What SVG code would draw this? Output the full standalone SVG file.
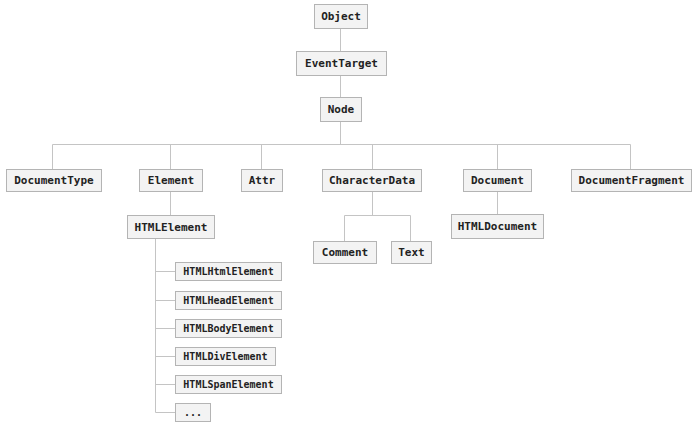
<svg xmlns="http://www.w3.org/2000/svg" width="700" height="429" viewBox="0 0 700 429">
<style>
.b{fill:#f3f3f3;stroke:#b4b4b4;stroke-width:1}
.t{font-family:"DejaVu Sans Mono","Liberation Mono",monospace;font-weight:bold;font-size:11px;fill:#222;text-anchor:middle;dominant-baseline:central}
.s{font-size:10px}
.c{fill:none;stroke:#c4c4c4;stroke-width:1}
</style>
<rect width="700" height="429" fill="#fff"/>
<g id="connectors">
<path class="c" d="M340.5 28.5V51M340.5 75V97M340.5 121V144.5M52.5 169V144.5H630.5V169M170.5 144.5V169M261.5 144.5V169M372.5 144.5V169M497.5 144.5V169"/>
<path class="c" d="M170.5 191V215"/>
<path class="c" d="M372.5 191V215.5M344.5 241V215.5H410.5V241"/>
<path class="c" d="M497.5 191V214"/>
<path class="c" d="M155.5 238V412.5H175M155.5 271.5H175M155.5 300.5H175M155.5 328.5H175M155.5 356.5H175M155.5 384.5H175"/>
</g>
<g id="Object"><rect class="b" x="314.5" y="4.5" width="53" height="24"/><text class="t" x="341" y="16.5">Object</text></g>
<g id="EventTarget"><rect class="b" x="296.5" y="51.5" width="90" height="24"/><text class="t" x="341.5" y="63.5">EventTarget</text></g>
<g id="Node"><rect class="b" x="320.5" y="97.5" width="41" height="24"/><text class="t" x="341" y="109.5">Node</text></g>
<g id="DocumentType"><rect class="b" x="6.5" y="169.5" width="95" height="22"/><text class="t" x="54" y="180.5">DocumentType</text></g>
<g id="Element"><rect class="b" x="139.5" y="169.5" width="63" height="22"/><text class="t" x="171" y="180.5">Element</text></g>
<g id="Attr"><rect class="b" x="241.5" y="169.5" width="41" height="22"/><text class="t" x="262" y="180.5">Attr</text></g>
<g id="CharacterData"><rect class="b" x="322.5" y="169.5" width="99" height="22"/><text class="t" x="372" y="180.5">CharacterData</text></g>
<g id="Document"><rect class="b" x="463.5" y="169.5" width="68" height="22"/><text class="t" x="497.5" y="180.5">Document</text></g>
<g id="DocumentFragment"><rect class="b" x="571.5" y="169.5" width="120" height="22"/><text class="t" x="631.5" y="180.5">DocumentFragment</text></g>
<g id="HTMLElement"><rect class="b" x="127.5" y="215.5" width="87" height="23"/><text class="t" x="171" y="227">HTMLElement</text></g>
<g id="Comment"><rect class="b" x="313.5" y="241.5" width="63" height="22"/><text class="t" x="345" y="252.5">Comment</text></g>
<g id="Text"><rect class="b" x="391.5" y="241.5" width="40" height="22"/><text class="t" x="411.5" y="252.5">Text</text></g>
<g id="HTMLDocument"><rect class="b" x="451.5" y="214.5" width="92" height="24"/><text class="t" x="497.5" y="226.5">HTMLDocument</text></g>
<g id="HTMLHtmlElement"><rect class="b" x="175.5" y="262.5" width="106" height="18"/><text class="t s" x="228.5" y="271.5">HTMLHtmlElement</text></g>
<g id="HTMLHeadElement"><rect class="b" x="175.5" y="291.5" width="106" height="18"/><text class="t s" x="228.5" y="300.5">HTMLHeadElement</text></g>
<g id="HTMLBodyElement"><rect class="b" x="175.5" y="319.5" width="106" height="18"/><text class="t s" x="228.5" y="328.5">HTMLBodyElement</text></g>
<g id="HTMLDivElement"><rect class="b" x="175.5" y="347.5" width="100" height="18"/><text class="t s" x="225.5" y="356.5">HTMLDivElement</text></g>
<g id="HTMLSpanElement"><rect class="b" x="175.5" y="375.5" width="106" height="18"/><text class="t s" x="228.5" y="384.5">HTMLSpanElement</text></g>
<g id="More"><rect class="b" x="175.5" y="403.5" width="35" height="18"/><text class="t s" x="193" y="412.5">...</text></g>
</svg>
